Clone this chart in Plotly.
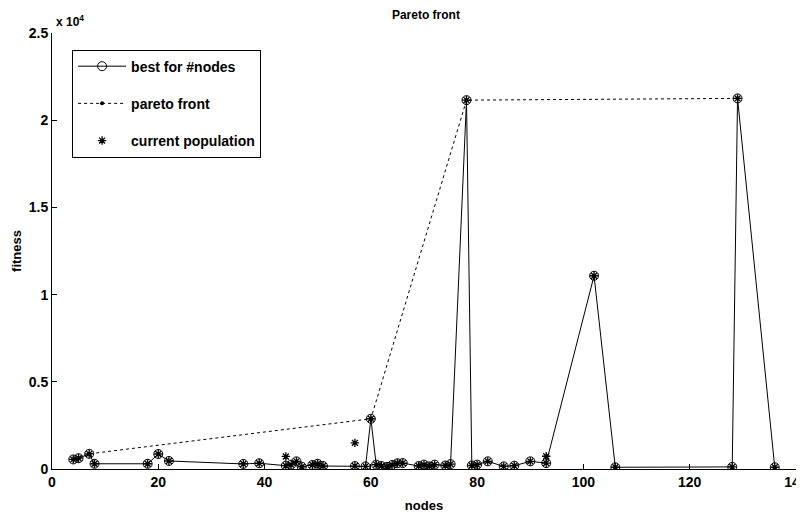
import plotly.graph_objects as go

# best individual for each node count
best_nodes = [4, 5, 7, 8, 18, 20, 22, 36, 39, 44, 45, 46, 47, 49, 50, 51, 57, 59, 60,
              61, 62, 63, 64, 65, 66, 69, 70, 71, 72, 74, 75, 78, 79, 80, 82, 85, 87,
              90, 93, 102, 106, 128, 129, 136]
best_fitness = [550, 620, 870, 300, 300, 860, 460, 290, 330, 190, 250, 440, 130, 230,
                300, 170, 170, 150, 2880, 250, 170, 120, 230, 330, 340, 170, 250, 150,
                250, 200, 280, 21150, 200, 250, 440, 150, 190, 440, 340, 11080, 100,
                120, 21250, 100]

# pareto front
pareto_nodes = [4, 5, 7, 60, 78, 129]
pareto_fitness = [550, 620, 870, 2880, 21150, 21250]

# current population members not lying on the best-per-node line
extra_pop_nodes = [44, 57, 93]
extra_pop_fitness = [720, 1500, 730]

pop_nodes = best_nodes + extra_pop_nodes
pop_fitness = best_fitness + extra_pop_fitness

y_tickvals = [0, 5000, 10000, 15000, 20000, 25000]
y_ticktext = ["0", "0.5", "1", "1.5", "2", "2.5"]
x_tickvals = [0, 20, 40, 60, 80, 100, 120, 140]

FONT = "Liberation Sans, Arial, sans-serif"

fig = go.Figure()
fig.add_trace(go.Scatter(
    x=best_nodes, y=best_fitness, mode="lines+markers", name="<b>best for #nodes</b>",
    line=dict(color="black", width=1),
    marker=dict(symbol="circle-open", size=9, color="black", line=dict(width=1)),
    legendgroup="a",
))
fig.add_trace(go.Scatter(
    x=pareto_nodes, y=pareto_fitness, mode="lines+markers", name="<b>pareto front</b>",
    line=dict(color="black", width=1, dash="3px,3px"),
    marker=dict(symbol="circle", size=4, color="black"),
    legendgroup="b",
))
fig.add_trace(go.Scatter(
    x=pop_nodes, y=pop_fitness, mode="markers", name="<b>current population</b>",
    marker=dict(symbol="asterisk-open", size=7, color="black", line=dict(width=1.3, color="black")),
    legendgroup="c",
))

# the page body adds an 8px offset, so the figure is 8px smaller than the window
fig.update_layout(
    width=796, height=513,
    margin=dict(l=44, r=8, t=25, b=52),
    paper_bgcolor="white", plot_bgcolor="white",
    font=dict(family=FONT, color="black", size=14),
    title=dict(text="<b>Pareto front</b>", x=0.525, xanchor="center", y=1.0, yanchor="top",
               font=dict(size=12), pad=dict(t=3)),
    showlegend=True,
    legend=dict(x=0.027, y=0.962, xanchor="left", yanchor="top",
                bordercolor="black", borderwidth=1, bgcolor="white",
                font=dict(size=14), tracegroupgap=16, traceorder="grouped",
                itemwidth=48),
    xaxis=dict(range=[0, 140], tickvals=x_tickvals, ticks="inside", ticklen=5,
               tickcolor="black", showline=True, linecolor="black", linewidth=1,
               mirror=False, showgrid=False, zeroline=False, automargin=False,
               ticklabeloverflow="allow",
               tickfont=dict(size=14), title=dict(text="<b>nodes</b>", font=dict(size=13), standoff=12)),
    yaxis=dict(range=[0, 25000], tickvals=y_tickvals, ticktext=[f"<b>{t}</b>" for t in y_ticktext],
               ticks="inside", ticklen=5, tickcolor="black", showline=True, linecolor="black",
               linewidth=1, mirror=False, showgrid=False, zeroline=False, automargin=False,
               ticklabeloverflow="allow",
               tickfont=dict(size=14), title=dict(text="<b>fitness</b>", font=dict(size=13), standoff=4)),
    annotations=[dict(text="<b>x 10<sup>4</sup></b>", xref="paper", yref="paper", x=0.0, y=1.0,
                      xanchor="left", yanchor="bottom", showarrow=False, font=dict(size=12),
                      xshift=2, yshift=2)],
)
fig.update_xaxes(ticktext=[f"<b>{v}</b>" for v in x_tickvals])

fig.write_html("out.html")
